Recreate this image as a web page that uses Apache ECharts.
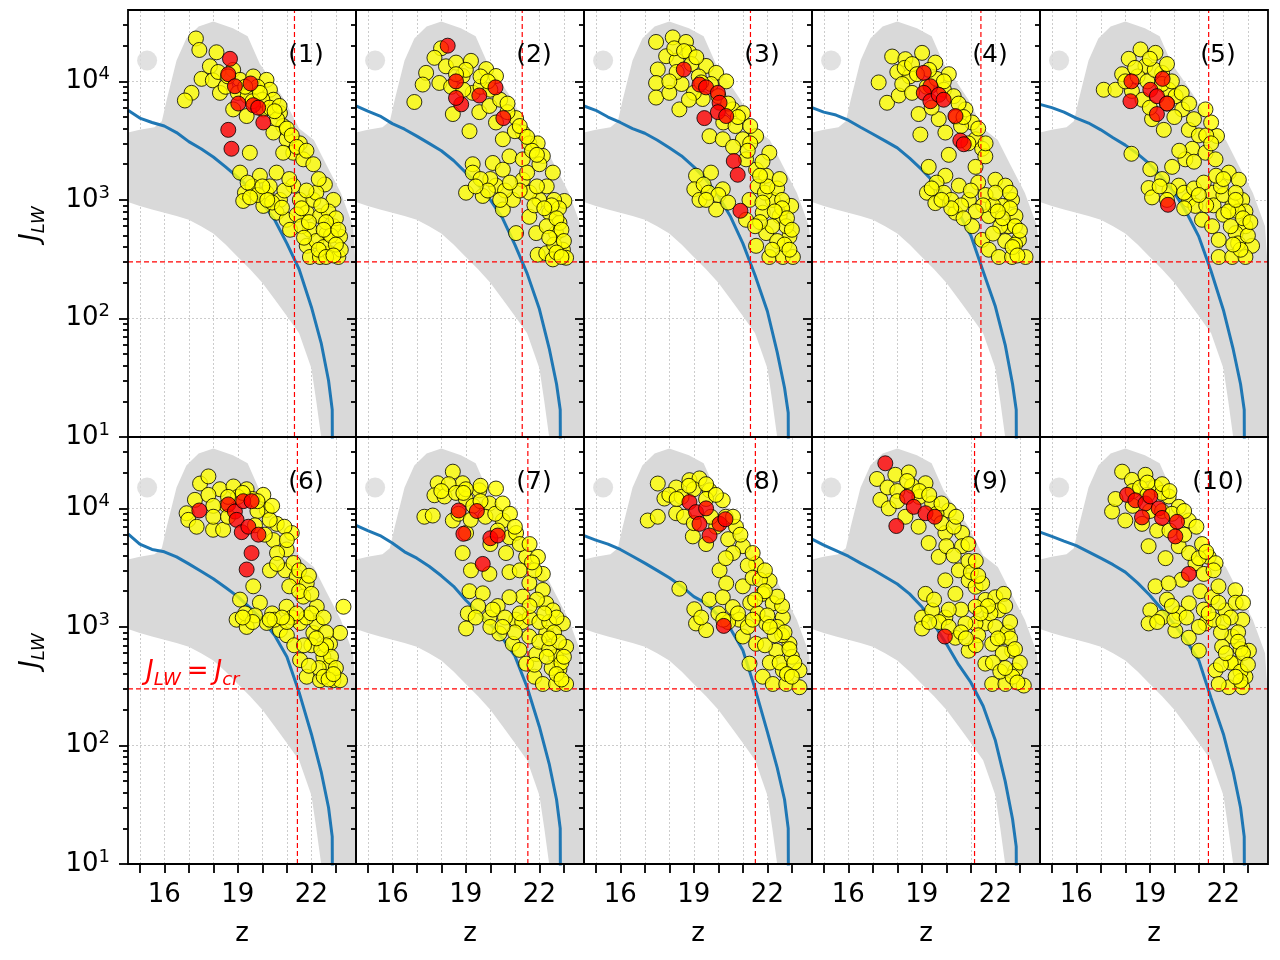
<!DOCTYPE html>
<html>
<head>
<meta charset="utf-8">
<title>J_LW vs z</title>
<script src="https://cdn.jsdelivr.net/npm/echarts@6/dist/echarts.min.js"></script>
<style>
html, body { margin: 0; padding: 0; background: #fff; }
#main { width: 1280px; height: 960px; }
</style>
</head>
<body>
<div id="main"></div>
<script>
/* axis ticks */
var zTicks = [15, 16, 17, 18, 19, 20, 21, 22, 23];
var zLabels = [16, 19, 22];
var jMajor = [10, 100, 1000, 10000];
var jMinor = [20, 30, 40, 50, 60, 70, 80, 90, 200, 300, 400, 500, 600, 700, 800, 900,
	2000, 3000, 4000, 5000, 6000, 7000, 8000, 9000, 20000, 30000];
var jGrid = [100, 1000, 10000];
var jCr = 300;

/* z where the blue curve hits J_cr, per panel */
var zCross = [21.31, 21.30, 21.31, 21.41, 21.40, 21.43, 21.53, 21.51, 21.15, 21.39];

/* grey cloud (all haloes): outline and a stray point */
var grayEdge = [[14.3,3700],[15.0,3900],[15.6,4100],[15.9,4600],[16.1,7000],[16.5,15000],[16.9,23000],[17.4,29000],
	[18.0,32000],[18.8,28000],[19.4,24000],[19.9,14000],[20.4,10000],[20.9,7000],[21.5,4000],[22.1,3200],[22.6,2000],
	[23.2,1150],[23.7,600],[24.3,250],[24.3,5],[22.4,5],[22.4,10],[22.2,20],[22.0,38],[21.5,75],[21.0,105],[20.5,145],
	[20.0,200],[19.5,260],[19.0,330],[18.5,420],[18.0,520],[17.5,600],[17.0,680],[16.5,730],[16.0,780],[15.5,830],
	[15.0,890],[14.3,960]];
var grayDots = [[15.3,15000]];

/* blue curve */
var blueZ = [14.52, 15, 15.5, 16, 16.5, 17, 17.5, 18, 18.5, 19, 19.5, 20, 20.5, 21, 21.5, 22, 22.4, 22.7, 22.85, 22.86];
var blue1 = [5700,4900,4500,4200,3700,3100,2700,2300,1900,1550,1250,950,680,430,260,125,62,30,17,5];
var blue2 = [6200,5600,5100,4400,3950,3450,3000,2600,2150,1700,1350,1000,700,420,240,120,56,28,17,5];
var blue3 = [6200,5700,5000,4500,4000,3650,3200,2750,2350,1900,1480,1080,720,430,230,115,52,26,16,5];
var blue4 = [6000,5500,5200,4700,4100,3600,3150,2750,2250,1800,1400,1050,780,500,250,126,60,28,17,5];
var blue5 = [6400,6000,5500,4900,4450,3900,3350,2900,2450,2000,1550,1150,780,490,250,118,55,28,17,5];
var blue6 = [6100,5000,4500,4300,3900,3400,2950,2550,2150,1800,1450,1150,850,560,280,125,60,30,17,5];
var blue7 = [7200,6500,5900,5100,4300,3800,3250,2700,2200,1680,1330,1050,800,570,310,144,70,35,20,5];
var blue8 = [5900,5400,5000,4500,3950,3450,3000,2600,2200,1800,1580,1250,960,635,300,130,65,35,20,5];
var blue9 = [5500,4900,4400,3950,3450,3050,2650,2300,1900,1480,1050,720,480,340,215,110,50,24,14,5];
var blue10 = [6300,5800,5300,4850,4300,3800,3350,2900,2350,1850,1400,1050,760,520,250,125,60,30,17,5];

/* yellow: haloes of each run, [z, J_LW] */
var yellow1 = [[17.29,23000],[17.43,18400],[18.13,17600],[17.86,13400],[17.52,10500],[17.11,8000],[16.84,6900],[17.98,10200],
	[18.27,8000],[18.81,12500],[19.09,10300],[19.63,11000],[20.17,10300],[20.31,8500],[20.45,7000],[18.81,5800],[19.36,5100],
	[20.04,5800],[20.72,5400],[20.85,4200],[20.45,3700],[20.99,3250],[21.26,2500],[21.53,3000],[21.67,2200],[22.08,2000],
	[20.85,2500],[18.5,9000],[19.0,8000],[19.4,7500],[19.8,9000],[20.0,7000],[20.3,6000],[20.6,4800],[21.0,4000],[21.2,3500],
	[19.6,6800],[19.49,2500],[19.09,1700],[19.29,1150],[19.22,980],[19.9,1600],[20.17,1150],[20.58,1700],[20.72,1000],
	[20.04,890],[20.58,780],[20.99,680],[21.13,560],[21.26,1320],[21.53,1000],[21.81,780],[22.08,1000],[21.94,560],[21.81,410],
	[21.94,330],[22.35,330],[22.55,1350],[22.9,1000],[22.35,730],[22.62,520],[22.76,355],[23.17,490],[23.1,330],[22.9,600],
	[19.6,1300],[19.8,1100],[20.3,1300],[20.4,950],[20.9,1200],[21.4,750],[21.6,600],[22.2,450],[22.5,400],[22.7,800],
	[23.0,700],[23.2,380],[22.2,1150],
	[22.4,900],[22.6,650],[22.8,500],[23.0,420],[22.5,560],[22.3,380],[23.1,560],[22.6,330],[22.9,340],[21.6,850],[21.9,650],
	[21.7,480],[20.8,860],[20.2,1000],[19.5,1050],[20.0,1300],[19.4,1400],[21.1,1500],[21.8,1200],[22.3,1500],[18.2,12000],
	[18.6,11000],[19.3,9000],[19.9,8000],[20.7,6200],[21.4,2800],[21.8,2600],[20.5,5600]];
var yellow2 = [[17.99,19000],[17.72,15800],[17.38,11800],[17.24,9400],[16.9,6700],[17.92,9700],[18.19,13400],[18.6,14400],
	[19.21,14900],[19.83,12700],[20.23,11100],[18.87,11100],[19.28,8000],[18.47,5300],[19.15,3800],[19.55,5500],[19.96,6200],
	[20.23,4500],[20.51,3250],[21.05,4900],[21.32,3700],[21.59,3000],[21.93,3000],[20.78,2330],[21.32,2200],[22.14,2350],
	[22.55,1700],[18.4,9000],[18.9,8500],[19.6,9000],[20.0,8500],[20.4,7000],[20.7,5500],[21.0,3800],[21.7,2600],
	[19.28,2000],[20.1,2050],[20.51,1800],[19.01,1150],[19.28,1700],[19.69,1080],[20.23,1320],[20.51,830],[20.92,1000],
	[21.05,525],[21.32,1480],[21.59,720],[21.87,525],[22.0,1000],[21.93,345],[22.28,355],[22.68,525],[22.96,380],[23.02,980],
	[22.41,780],[22.82,640],[23.09,325],[22.55,315],[22.3,1300],[22.6,1000],[22.8,850],[21.6,1150],[21.8,900],[22.3,600],
	[22.6,420],[20.0,1500],[20.6,1200],[19.6,1500],
	[22.5,900],[22.7,700],[22.9,560],[23.0,450],[22.4,480],[22.7,360],[22.9,330],[22.2,850],[21.9,1300],[21.5,1700],[21.2,1200],
	[20.8,1400],[20.4,1000],[19.9,1200],[19.4,1300],[22.0,2000],[21.9,2400],[19.6,11000],[19.0,12500],[18.6,11500],[19.9,10000],
	[20.7,6500],[21.2,4200],[21.5,3400]];
var yellow3 = [[17.46,21500],[18.14,23500],[18.68,21500],[18.82,17500],[17.87,16300],[17.53,12600],[17.46,9700],[17.46,7300],
	[18.0,8000],[18.41,5800],[19.5,13500],[19.91,11800],[20.32,10000],[19.36,7100],[20.59,5800],[21.0,5400],[19.64,3450],
	[20.18,3250],[21.0,3250],[21.54,3450],[22.08,2500],[21.54,1800],[21.95,1600],[21.13,2200],[18.3,15000],[18.9,14000],
	[19.2,11000],[18.5,9500],[19.0,8000],[19.7,9500],[20.0,7500],[20.4,6500],[20.2,4500],[20.7,4200],[21.3,4200],[20.6,2800],
	[21.8,2100],[19.09,1600],[19.7,1700],[19.02,1230],[19.23,1000],[19.91,830],[20.18,1230],[21.27,1000],[21.13,680],
	[21.54,410],[21.95,525],[22.22,1000],[22.08,330],[22.63,330],[22.9,490],[22.97,890],[22.5,730],[23.04,330],[22.77,600],
	[21.81,780],[19.4,1350],[19.6,1150],[20.0,1100],[21.6,1300],[21.9,1150],[22.4,1250],[22.6,1000],[22.2,600],[22.4,450],
	[21.7,650],
	[22.6,850],[22.8,700],[23.0,560],[22.7,420],[22.9,380],[22.3,800],[22.2,380],[21.8,950],[21.5,600],[22.0,1300],[21.7,1600],
	[22.5,1500],[20.4,950],[19.5,1000],[18.2,19000],[18.6,18000],[19.1,16000],[18.3,12000],[18.0,10000],[18.8,7000],[19.3,9800],
	[20.8,5000],[21.3,3000],[21.2,2600]];
var yellow4 = [[17.79,16200],[17.24,9800],[17.58,6600],[18.06,7600],[18.33,15400],[19.01,17400],[19.55,14400],[20.1,11500],
	[18.87,5300],[18.94,3560],[19.69,4800],[19.96,3700],[20.1,2400],[20.78,5800],[21.05,4500],[21.19,3250],[21.46,2700],
	[21.59,2330],[21.19,1900],[18.0,12000],[18.5,11000],[18.2,9500],[18.6,8000],[19.2,9000],[19.6,10500],[19.9,8500],
	[20.3,7500],[20.5,6500],[20.4,5000],[19.4,6000],[20.6,4200],[20.9,3000],[19.28,1900],[19.21,1150],[19.55,940],[19.96,1600],
	[20.37,780],[20.51,1320],[20.92,1000],[21.05,600],[21.46,460],[21.73,380],[21.73,730],[22.0,1480],[22.41,1320],
	[22.68,1000],[22.55,600],[22.96,460],[23.23,330],[22.14,330],[22.68,330],[22.28,890],[22.82,730],[19.6,1400],[19.9,1150],
	[20.2,1000],[20.6,900],[21.3,1400],[21.6,1100],[21.9,900],[22.2,600],[22.4,450],[21.9,520],[22.8,420],
	[22.6,850],[22.8,600],[23.0,550],[22.7,400],[22.9,340],[22.3,700],[22.1,800],[22.0,1150],[22.6,1150],[21.5,900],[21.2,800],
	[20.7,700],[20.2,850],[19.8,1000],[19.4,1250],[21.0,1200],[18.3,13000],[18.6,14000],[19.3,12500],[19.9,10000],[18.8,11500],
	[20.7,5000],[21.3,4000],[21.6,3000]];
var yellow5 = [[18.62,18600],[19.23,17400],[18.14,15500],[17.87,11500],[17.12,8500],[17.6,8500],[18.27,8300],[18.82,13500],
	[19.5,11800],[19.77,8500],[20.05,7500],[20.32,5800],[19.09,4800],[19.57,3900],[20.59,3900],[21.27,5800],[21.74,3460],
	[20.73,2700],[21.27,2500],[21.68,2200],[20.45,2200],[18.25,2450],[18.0,10000],[18.5,11000],[18.9,10000],[19.2,12500],
	[19.5,9500],[18.7,7000],[19.0,6000],[19.7,6500],[20.0,5000],[20.8,4800],[21.0,3500],[21.3,3500],[20.2,2600],[20.8,2100],
	[19.02,1820],[18.95,1260],[19.09,1050],[19.91,1900],[20.18,1320],[20.59,1000],[20.86,890],[21.13,680],[21.54,600],
	[21.81,460],[21.81,330],[22.22,1700],[22.63,1480],[22.77,1000],[22.36,890],[22.9,600],[23.17,410],[22.36,330],[22.9,330],
	[22.5,525],[21.54,1150],[19.5,1500],[19.8,1200],[20.4,1150],[20.8,1250],[21.2,1400],[21.6,900],[22.0,750],[22.3,600],
	[22.6,430],[22.0,1100],[22.5,1150],[22.9,800],
	[22.6,800],[22.8,700],[23.0,500],[22.7,380],[22.4,420],[22.2,800],[22.5,1000],[23.1,650],[21.9,1300],[21.7,1600],[22.0,1500],
	[21.3,900],[21.0,1100],[20.4,850],[19.7,1000],[19.4,1300],[19.7,14000],[19.0,15500],[18.4,13000],[19.9,10000],[20.3,8000],
	[20.6,6500],[21.5,4500],[21.5,3000]];
var yellow6 = [[17.46,16200],[17.8,18600],[17.25,11800],[16.91,9100],[16.98,8000],[17.32,7000],[17.99,6600],[18.27,14500],
	[18.82,15300],[19.36,14500],[20.04,13000],[18.54,10600],[18.4,6600],[20.18,9700],[20.59,7400],[20.45,5400],[21.2,6200],
	[20.99,4500],[20.31,3000],[20.93,3000],[21.27,3460],[21.4,2650],[21.81,2330],[21.67,1800],[22.22,1480],[17.8,13000],
	[18.0,10500],[18.0,8500],[18.6,8500],[19.0,12500],[19.6,12000],[19.8,9500],[20.3,8000],[19.7,7200],[20.1,6000],
	[20.6,4200],[20.6,3400],[21.1,2200],[21.5,2000],[19.63,2200],[19.09,1700],[18.95,1150],[19.36,1000],[19.9,1600],
	[20.18,1080],[20.72,940],[20.99,1480],[21.54,1080],[21.54,525],[21.81,380],[22.08,890],[22.49,560],[22.35,355],[22.9,355],
	[23.17,355],[22.76,720],[23.17,890],[23.31,1480],[22.76,470],[22.22,1080],[19.3,1300],[19.7,1250],[20.4,1300],[20.5,1150],
	[21.2,1200],[21.0,850],[21.3,700],[21.8,1200],[22.0,700],[22.6,900],[22.3,450],[22.5,380],[21.9,470],
	[22.6,700],[22.8,560],[23.0,450],[22.7,360],[22.9,400],[22.4,650],[22.2,800],[22.0,1300],[22.5,1200],[21.7,700],[21.4,1300],
	[21.0,1100],[20.8,1200],[20.3,1150],[19.6,1100],[19.2,1200],[18.6,12500],[19.2,13500],[19.8,11500],[20.4,10500],[20.9,7000],
	[21.0,5400],[21.5,3000],[21.9,2700],[22.0,1900]];
var yellow7 = [[18.47,20400],[17.85,16300],[17.72,12900],[17.31,8500],[17.65,8700],[18.13,12600],[18.87,16300],[19.55,14200],
	[20.23,14700],[19.96,11000],[18.47,7900],[19.01,6200],[18.87,4200],[19.21,3000],[19.96,2800],[20.51,7900],[20.78,5700],
	[21.05,6200],[20.64,4200],[20.78,2900],[21.46,3900],[21.94,3900],[22.14,2800],[21.59,2350],[21.32,1800],[22.14,2050],
	[22.28,1580],[22.55,1380],[22.96,1070],[18.3,16000],[18.0,14000],[18.6,13500],[19.0,12000],[19.3,10500],[19.6,11500],
	[18.7,9000],[19.2,8000],[19.8,8500],[20.2,9000],[20.3,6500],[20.0,5000],[21.2,5000],[21.2,3000],[21.8,3000],
	[19.15,2000],[19.08,1300],[19.01,970],[19.69,1920],[19.96,1200],[20.37,880],[20.78,1780],[20.91,720],[21.19,640],
	[21.59,830],[21.46,490],[21.8,380],[21.87,590],[22.14,330],[22.68,330],[23.09,330],[22.68,560],[23.09,680],[22.28,890],
	[22.82,440],[21.05,1150],[20.3,1500],[19.5,1500],[20.0,1000],[20.6,1200],[21.3,1100],[21.6,1200],[22.0,1100],[22.4,1100],
	[22.0,750],[22.4,650],[22.5,450],[22.9,500],[21.8,480],
	[22.6,900],[22.8,750],[23.0,560],[22.7,400],[22.9,360],[22.4,800],[22.3,560],[22.7,1200],[22.2,1300],[21.9,1700],[21.6,1500],
	[21.2,1300],[21.0,900],[20.5,1000],[20.1,1400],[19.4,1200],[19.6,15500],[19.0,14500],[18.9,13500],[20.5,11000],[20.8,9000],
	[21.0,7000],[21.6,5000],[21.7,3500]];
var yellow8 = [[17.53,16200],[17.8,12100],[17.12,7900],[17.53,8500],[18.28,15000],[18.82,17300],[19.23,17900],[19.64,14200],
	[20.18,11700],[18.28,9100],[18.96,5800],[19.5,5000],[19.91,7000],[20.72,7000],[20.05,3000],[20.32,2330],[21.0,4800],
	[21.54,3400],[22.09,2450],[21.81,1900],[22.22,1580],[22.63,1200],[21.0,2200],[18.0,13000],[18.5,12500],[19.0,14500],
	[19.5,12000],[18.6,8500],[19.0,7500],[19.7,8500],[20.3,8500],[20.4,5500],[20.6,4200],[20.3,3800],[21.2,3300],[21.4,2600],
	[21.7,2500],[18.41,2100],[19.02,1410],[19.09,1070],[19.64,1700],[20.18,1780],[19.5,940],[21.0,830],[21.27,490],
	[21.54,720],[21.81,380],[21.95,1070],[22.36,630],[22.22,330],[22.77,330],[23.31,310],[23.31,430],[22.9,720],[22.63,430],
	[20.59,1470],[20.86,1150],[21.3,1600],[21.6,1300],[22.0,1250],[22.4,1000],[20.0,1300],[20.4,1100],[21.2,1000],[21.9,700],
	[22.1,500],[22.5,500],[23.0,560],[22.6,850],
	[22.7,900],[22.9,650],[23.1,500],[22.8,400],[23.0,380],[22.3,850],[22.1,1000],[22.6,1500],[22.4,1800],[21.9,2000],[21.5,1700],
	[21.4,1150],[20.8,1300],[20.2,1150],[19.3,1200],[19.5,16000],[19.9,13000],[18.8,15500],[18.3,12000],[20.6,8500],[20.9,6000],
	[21.4,4200],[21.9,3000]];
var yellow9 = [[17.17,17700],[17.31,11800],[17.65,10000],[17.92,19200],[18.47,20100],[19.15,16300],[19.42,11000],[20.1,9600],
	[18.33,8500],[18.87,7000],[19.28,5100],[19.96,6200],[20.64,6200],[19.69,3900],[20.64,4800],[20.51,3000],[20.91,2470],
	[21.19,2180],[21.46,2330],[17.6,15000],[18.0,14000],[18.6,15500],[18.9,12500],[18.0,11500],[19.6,9000],[19.8,7500],
	[20.3,7000],[20.0,4800],[20.3,4000],[20.9,3600],[21.0,2900],[19.96,2470],[20.37,1900],[19.15,1900],[19.01,1200],
	[19.01,970],[19.42,1380],[19.96,1200],[20.37,810],[20.91,630],[21.59,1690],[22.0,1780],[22.34,1900],[22.14,1380],
	[21.59,1070],[21.87,720],[22.28,820],[21.59,490],[21.87,330],[22.41,330],[22.68,630],[22.82,430],[23.16,320],[21.19,1070],
	[21.19,1480],[20.78,1070],[19.5,1700],[19.7,1100],[20.1,1000],[20.6,1400],[20.6,900],[21.3,850],[21.8,1300],[22.0,1000],
	[22.3,600],[22.5,900],[21.9,500],[22.2,420],
	[22.6,800],[22.8,650],[23.0,500],[22.7,380],[22.9,340],[22.4,450],[22.1,800],[22.4,1500],[22.6,1100],[21.7,1500],[21.4,1300],
	[21.2,700],[20.8,800],[20.1,1400],[19.3,1100],[18.4,17000],[18.9,14000],[19.3,13000],[19.8,11000],[20.4,8500],[20.9,5000],
	[21.2,3600],[21.3,2700]];
var yellow10 = [[17.87,20400],[18.27,17400],[18.82,19200],[19.23,15100],[17.46,9400],[17.6,12000],[18.0,7900],[18.68,7400],
	[19.77,12600],[20.18,10300],[20.59,7900],[18.95,4800],[19.64,3800],[20.18,4800],[21.13,5000],[21.4,3900],[20.86,3450],
	[21.68,3450],[21.06,2000],[18.3,14000],[18.6,15000],[18.9,13000],[19.5,13500],[18.3,10500],[19.0,9500],[19.5,9500],
	[19.9,9000],[19.3,6500],[19.8,6500],[20.4,6000],[20.6,4200],[21.0,3800],[21.2,2800],[20.3,2500],[19.23,2200],[19.77,2330],
	[19.02,1380],[18.95,1070],[19.5,1200],[20.04,930],[20.59,1580],[20.59,810],[21.0,630],[21.68,430],[21.54,1780],[22.09,1380],
	[22.49,2040],[22.77,1150],[22.36,830],[21.95,680],[23.04,630],[22.9,380],[22.22,310],[22.77,310],[21.81,330],[22.49,490],
	[21.27,1070],[19.7,1700],[20.2,1300],[20.0,1150],[21.2,1400],[21.6,1150],[21.9,900],[22.3,1200],[22.6,900],[22.7,650],
	[22.3,500],[21.9,480],[22.7,420],
	[22.6,750],[22.8,600],[23.0,480],[22.7,350],[22.5,380],[22.1,600],[22.0,1100],[22.5,1600],[22.8,1600],[21.8,1600],[21.4,1300],
	[21.0,1000],[20.5,1200],[19.9,1500],[19.3,1100],[18.9,16500],[19.5,16000],[19.8,14000],[20.4,9500],[20.9,7000],[21.3,4300],
	[21.6,3000],[21.8,2200]];

/* red: selected haloes, [z, J_LW] */
var red1 = [[18.68,15500],[18.61,11500],[18.88,9100],[19.52,9600],[19.02,6500],[19.63,6300],[19.83,6000],[20.04,4500],[18.61,3900],[18.74,2700]];
var red2 = [[18.26,20000],[18.6,10000],[18.81,6400],[18.6,7250],[19.55,7600],[20.21,8900],[20.53,4900]];
var red3 = [[18.59,12600],[19.23,9400],[19.5,8900],[19.98,8000],[20.05,6600],[19.98,5500],[19.43,4900],[20.32,5100],[20.63,2130],[20.79,1630],[20.9,810]];
var red4 = [[19.08,11800],[19.35,9100],[19.08,8000],[19.35,6800],[19.69,7700],[19.89,7000],[20.37,5100],[20.57,3170],[20.71,2950]];
var red5 = [[18.25,10000],[18.21,6800],[19.02,8500],[19.29,7500],[19.52,10500],[19.7,6500],[19.29,5300],[19.74,910]];
var red6 = [[17.43,9600],[18.61,10800],[18.88,9400],[19.22,11500],[19.56,11500],[18.95,8000],[19.16,6300],[19.43,7000],[19.84,6000],[19.56,4200],[19.36,3050]];
var red7 = [[18.71,9600],[19.45,9500],[18.9,6100],[20.0,5600],[20.3,5900],[19.69,3400]];
var red8 = [[18.82,11300],[19.09,9300],[19.5,10000],[19.23,7400],[19.64,5900],[20.05,7400],[20.29,8100],[20.22,1020]];
var red9 = [[17.51,24000],[18.4,12500],[18.67,10300],[19.15,9100],[19.53,8500],[17.96,7100],[19.94,830]];
var red10 = [[18.07,13000],[18.41,11700],[18.82,11000],[19.02,12600],[19.36,10000],[18.68,8400],[19.5,8300],[20.11,7700],[20.04,5800],[20.59,2800]];

var yellowList = [yellow1, yellow2, yellow3, yellow4, yellow5, yellow6, yellow7, yellow8, yellow9, yellow10];
var redList = [red1, red2, red3, red4, red5, red6, red7, red8, red9, red10];
var blueList = [blue1, blue2, blue3, blue4, blue5, blue6, blue7, blue8, blue9, blue10];

/* layout */
var font = 'DejaVu Sans';
var gridLeft = 128, gridTop = 10, cellW = 228, cellH = 427;
var zMin = 14.52, zMax = 23.82, jMin = 10, jMax = 40000;

var tickStyle = { color: '#000', width: 1.8 };
var supRich = {
	b: { fontSize: 26, lineHeight: 32, fontFamily: font, color: '#000' },
	s: { fontSize: 18, lineHeight: 18, fontFamily: font, color: '#000', verticalAlign: 'top' }
};
var jRich = {
	j: { fontSize: 26, lineHeight: 34, fontFamily: font, fontStyle: 'italic', color: '#000' },
	s: { fontSize: 18, lineHeight: 18, fontFamily: font, fontStyle: 'italic', color: '#000', verticalAlign: 'bottom' }
};
var redDash = { color: '#ff0000', type: [5, 3], width: 1.2 };

function toExp(v) { return Math.log10(v); }

var grids = [], xAxes = [], yAxes = [], series = [], graphics = [];

for (var i = 0; i < 10; i++) {
	var col = i % 5, row = Math.floor(i / 5);
	var isLeft = col === 0, isBottom = row === 1;
	var pLeft = gridLeft + col * cellW, pTop = gridTop + row * cellH;

	grids.push({
		left: pLeft, top: pTop, width: cellW, height: cellH,
		show: true, borderColor: '#000', borderWidth: 1.8, backgroundColor: 'transparent', z: 10
	});

	xAxes.push({
		type: 'value', gridIndex: i, min: zMin, max: zMax, position: 'bottom',
		axisLine: { show: false },
		axisTick: { show: isBottom, customValues: zTicks, length: 9, lineStyle: tickStyle },
		axisLabel: { show: isBottom, customValues: zLabels, margin: 18, fontSize: 26, fontFamily: font, color: '#000' },
		splitLine: { show: false },
		name: isBottom ? 'z' : '', nameLocation: 'middle', nameGap: 57,
		nameTextStyle: { fontSize: 26, fontFamily: font, color: '#000' }
	});

	// data axis (log), hidden
	yAxes.push({ type: 'log', logBase: 10, gridIndex: i, min: jMin, max: jMax, position: 'left', show: false });
	// decade ticks + labels
	yAxes.push({
		type: 'value', gridIndex: i, min: toExp(jMin), max: toExp(jMax), position: 'left', z: 10,
		axisLine: { show: false },
		axisTick: { customValues: jMajor.map(toExp), length: 9, lineStyle: tickStyle },
		axisLabel: {
			show: isLeft, customValues: jMajor.map(toExp), margin: 18,
			formatter: function (v) { return '{b|10}{s|' + Math.round(v) + '}'; },
			rich: supRich
		},
		splitLine: { show: false },
		name: isLeft ? '{j|J}{s|LW}' : '', nameLocation: 'middle', nameGap: 80, nameRotate: 90,
		nameTextStyle: { rich: jRich }
	});
	// minor ticks
	yAxes.push({
		type: 'value', gridIndex: i, min: toExp(jMin), max: toExp(jMax), position: 'left', z: 10,
		axisLine: { show: false },
		axisTick: { customValues: jMinor.map(toExp), length: 5, lineStyle: tickStyle },
		axisLabel: { show: false },
		splitLine: { show: false }
	});

	var yIdx = 3 * i;
	var gridLines = zTicks.map(function (z) { return { xAxis: z }; })
		.concat(jGrid.map(function (j) { return { yAxis: j }; }));

	// grey cloud
	series.push({
		type: 'custom', xAxisIndex: i, yAxisIndex: yIdx, z: 2, silent: true,
		data: [[18, 1000]],
		renderItem: function (params, api) {
			var cs = params.coordSys;
			var pts = grayEdge.map(function (p) {
				var c = api.coord(p);
				return [Math.min(Math.max(c[0], cs.x), cs.x + cs.width),
					Math.min(Math.max(c[1], cs.y), cs.y + cs.height)];
			});
			return { type: 'polygon', shape: { points: pts }, style: { fill: '#d9d9d9' } };
		}
	});
	series.push({
		type: 'scatter', xAxisIndex: i, yAxisIndex: yIdx, z: 2, silent: true,
		symbolSize: 20, itemStyle: { color: '#d9d9d9' },
		data: grayDots,
		markLine: {
			silent: true, symbol: ['none', 'none'], z: 1, label: { show: false },
			lineStyle: { color: '#cccccc', type: [2, 2], width: 1 },
			data: gridLines
		}
	});
	// blue curve
	series.push({
		type: 'line', xAxisIndex: i, yAxisIndex: yIdx, z: 3, silent: true,
		showSymbol: false, clip: true,
		lineStyle: { color: '#1f77b4', width: 3 },
		data: blueZ.map(function (z, k) { return [z, blueList[i][k]]; })
	});
	// yellow haloes
	series.push({
		type: 'scatter', xAxisIndex: i, yAxisIndex: yIdx, z: 4, silent: true,
		symbolSize: 15, itemStyle: { color: '#ffff00', borderColor: '#000', borderWidth: 1 },
		data: yellowList[i]
	});
	// red haloes
	series.push({
		type: 'scatter', xAxisIndex: i, yAxisIndex: yIdx, z: 5, silent: true,
		symbolSize: 15, itemStyle: { color: '#ff0000', borderColor: '#000', borderWidth: 1 },
		data: redList[i]
	});
	// J_LW = J_cr and the z where the blue curve reaches it
	series.push({
		type: 'line', xAxisIndex: i, yAxisIndex: yIdx, z: 6, silent: true,
		showSymbol: false, clip: true, lineStyle: redDash,
		data: [[zMin, jCr], [zMax, jCr]]
	});
	series.push({
		type: 'line', xAxisIndex: i, yAxisIndex: yIdx, z: 6, silent: true,
		showSymbol: false, clip: true, lineStyle: redDash,
		data: [[zCross[i], jMin], [zCross[i], jMax]]
	});

	graphics.push({
		type: 'text', x: pLeft + 178, y: pTop + 45, z: 20, silent: true,
		style: { text: '(' + (i + 1) + ')', fontSize: 25, fontFamily: font, fill: '#000', align: 'center', verticalAlign: 'middle' }
	});
}

var option = {
	animation: false,
	backgroundColor: '#fff',
	title: [{
		text: '{j|J}{s|LW}{e|=}{j|J}{s|cr}',
		left: 146, top: 655, padding: 0,
		textStyle: {
			rich: {
				j: { fontSize: 26, lineHeight: 34, fontFamily: font, fontStyle: 'italic', fontWeight: 'normal', color: '#ff0000' },
				s: { fontSize: 18, lineHeight: 18, fontFamily: font, fontStyle: 'italic', fontWeight: 'normal', color: '#ff0000', verticalAlign: 'bottom' },
				e: { fontSize: 26, lineHeight: 34, fontFamily: font, fontWeight: 'normal', color: '#ff0000', padding: [0, 6, 0, 6] }
			}
		}
	}],
	grid: grids,
	xAxis: xAxes,
	yAxis: yAxes,
	series: series,
	graphic: graphics
};

var chart = echarts.init(document.getElementById('main'));
chart.setOption(option);
</script>
</body>
</html>
